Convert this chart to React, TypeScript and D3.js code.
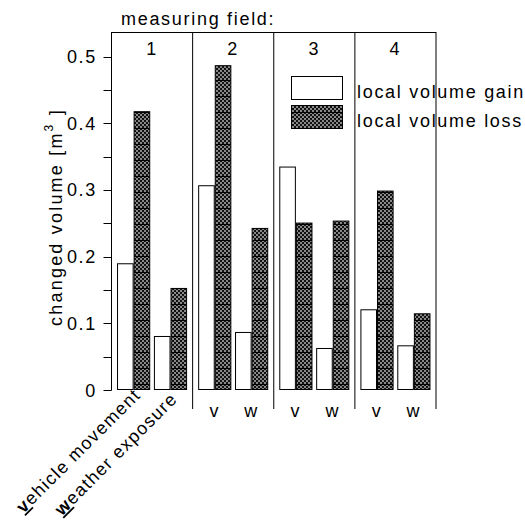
import React from "react";
import * as d3 from "d3";

const fields = ["1", "2", "3", "4"];
const conditions = ["v", "w"];
const seriesNames = ["local volume gain", "local volume loss"];
const gainV = [0.19, 0.307, 0.335, 0.121];
const lossV = [0.418, 0.487, 0.251, 0.299];
const gainW = [0.081, 0.087, 0.063, 0.067];
const lossW = [0.153, 0.243, 0.254, 0.115];
const majorTicks = [0, 0.1, 0.2, 0.3, 0.4, 0.5];
const minorTicks = [0, 0.05, 0.1, 0.15, 0.2, 0.25, 0.3, 0.35, 0.4, 0.45, 0.5];

const FONT = "'Liberation Sans', Arial, Helvetica, sans-serif";

export default function App() {
  const W = 525, H = 522;
  const y = d3.scaleLinear().domain([0, 0.5]).range([390, 56.5]);
  const fx = d3.scaleBand<string>().domain(fields).range([111.5, 436]).padding(0);
  const cx = d3.scaleBand<string>().domain(conditions).range([0, fx.bandwidth()]).paddingInner(0.1).paddingOuter(0.15);
  const sx = d3.scaleBand<string>().domain(["gain", "loss"]).range([0, cx.bandwidth()]).padding(0);

  const vals: Record<string, number[][]> = {
    v: [gainV, lossV],
    w: [gainW, lossW],
  };

  const bars: any[] = [];
  fields.forEach((f, i) => {
    conditions.forEach((c) => {
      ["gain", "loss"].forEach((s, k) => {
        const v = vals[c][k][i];
        const x0 = (fx(f) as number) + (cx(c) as number) + (sx(s) as number);
        bars.push({ key: f + c + s, x: x0, w: sx.bandwidth(), y: y(v), h: y(0) - y(v), loss: k === 1 });
      });
    });
  });

  const textStyle: React.CSSProperties = { fontFamily: FONT, fontSize: 18, letterSpacing: 1.7 };

  return (
    <svg width={W} height={H} style={{ position: "absolute", left: 0, top: 0, background: "#fff" }}>
      <defs>
        <pattern id="chk" patternUnits="userSpaceOnUse" width="16" height="16">
          <rect x="0" y="0" width="16" height="16" fill="#888" />
          {d3.range(0, 16, 2).flatMap((i) =>
            d3.range(0, 16, 2).filter((j) => ((i + j) / 2) % 2 === 0).map((j) => (
              <rect key={i + "-" + j} x={i} y={j} width="2" height="2" fill="#111" />
            ))
          )}
          <rect x="0" y="0" width="16" height="1" fill="#000" />
        </pattern>
      </defs>
      <rect x="0" y="0" width={W} height={H} fill="#fff" />

      {/* top label */}
      <text x={121} y={25} style={textStyle} fill="#000">measuring field:</text>

      {/* top box line */}
      <line x1={fx.range()[0]} x2={fx.range()[1]} y1={32.5} y2={32.5} stroke="#000" strokeWidth={1} />
      {fields.map((f) => (
        <g key={f}>
          <line x1={(fx(f) as number) + fx.bandwidth()} x2={(fx(f) as number) + fx.bandwidth()} y1={32} y2={409} stroke="#000" strokeWidth={1} />
          <text x={(fx(f) as number) + fx.bandwidth() / 2} y={55} textAnchor="middle" style={textStyle} fill="#000">{f}</text>
        </g>
      ))}

      {/* y axis */}
      <line x1={111.5} x2={111.5} y1={32} y2={390.5} stroke="#000" strokeWidth={1} />
      {minorTicks.map((t) => (
        <line key={"m" + t} x1={103.5} x2={111.5} y1={Math.round(y(t)) + 0.5} y2={Math.round(y(t)) + 0.5} stroke="#000" strokeWidth={1} />
      ))}
      {majorTicks.map((t) => (
        <text key={"t" + t} x={97} y={y(t) + 6.5} textAnchor="end" style={textStyle} fill="#000">
          {t === 0 ? "0" : d3.format(".1f")(t)}
        </text>
      ))}

      {/* y label */}
      <text transform={`translate(62,217) rotate(-90)`} textAnchor="middle" style={{ ...textStyle, letterSpacing: 2.2 }} fill="#000">
        changed volume [m<tspan dy={-9} fontSize={12}>3</tspan><tspan dy={9}> ]</tspan>
      </text>

      {/* bars */}
      {bars.map((b) => (
        <rect key={b.key} x={b.x + 0.5} y={b.y + 0.5} width={b.w - 1} height={b.h - 1}
          fill={b.loss ? "url(#chk)" : "#fff"} stroke="#000" strokeWidth={1} />
      ))}

      {/* x labels for fields 2-4 */}
      {fields.slice(1).map((f) =>
        conditions.map((c) => (
          <text key={f + c} x={(fx(f) as number) + (cx(c) as number) + cx.bandwidth() / 2} y={417}
            textAnchor="middle" style={textStyle} fill="#000">{c}</text>
        ))
      )}

      {/* rotated labels for field 1 */}
      <text transform={`translate(${(fx("1") as number) + (cx("v") as number) + cx.bandwidth() / 2 + 8},396) rotate(-45)`}
        textAnchor="end" style={{ ...textStyle, letterSpacing: 1.3 }} fill="#000">
        <tspan fontWeight="bold" textDecoration="underline">v</tspan>ehicle movement
      </text>
      <text transform={`translate(${(fx("1") as number) + (cx("w") as number) + cx.bandwidth() / 2 + 8},400) rotate(-45)`}
        textAnchor="end" style={{ ...textStyle, letterSpacing: 1.3 }} fill="#000">
        <tspan fontWeight="bold" textDecoration="underline">w</tspan>eather exposure
      </text>

      {/* legend */}
      <rect x={291.5} y={76.5} width={51} height={23} fill="#fff" stroke="#000" strokeWidth={1} />
      <rect x={291.5} y={105.5} width={51} height={23} fill="url(#chk)" stroke="#000" strokeWidth={1} />
      <text x={357} y={98} style={textStyle} fill="#000">{seriesNames[0]}</text>
      <text x={357} y={127} style={textStyle} fill="#000">{seriesNames[1]}</text>
    </svg>
  );
}
